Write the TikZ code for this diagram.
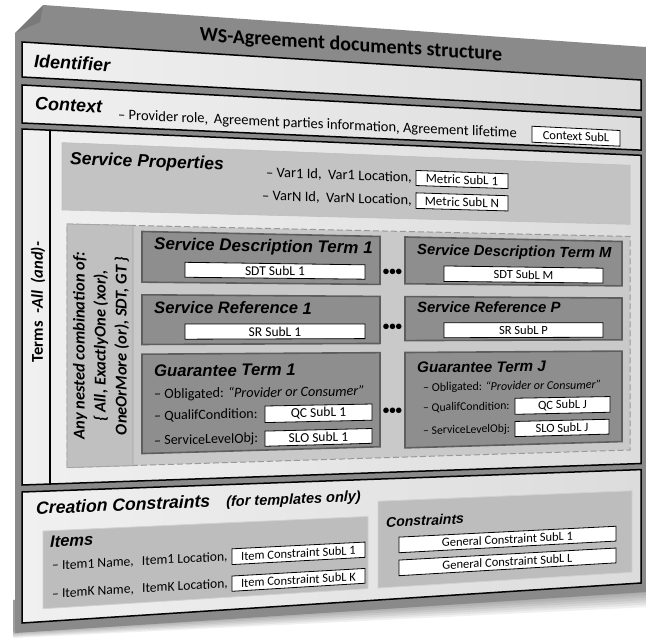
\documentclass[tikz,border=0pt]{standalone}
\usepackage{fontspec}
\setmainfont{Carlito}
\newfontfamily\hdfont{Liberation Sans}
\definecolor{sheetc}{HTML}{8A8A8A}
\definecolor{boxlight}{HTML}{F0F0F0}
\definecolor{boxdark}{HTML}{DCDCDC}
\definecolor{spc}{HTML}{C3C3C3}
\definecolor{dashc}{HTML}{C9C9C9}
\definecolor{anyc}{HTML}{C0C0C0}
\definecolor{termc}{HTML}{8E8E8E}
\definecolor{termb}{HTML}{5E5E5E}
\definecolor{itemc}{HTML}{BDBDBD}
\newcommand\hf[1]{\hdfont\bfseries\itshape\fontsize{#1}{#1}\selectfont}
\newcommand\bodyf[1]{\fontsize{#1}{#1}\selectfont}
% quadrilateral box in mapped coordinates: style, X1, Y1, X2, Y2
\newcommand\qbox[5]{\path[#1] ({#2},{mapy(#2,#3)}) -- ({#4},{mapy(#4,#3)}) -- ({#4},{mapy(#4,#5)}) -- ({#2},{mapy(#2,#5)}) -- cycle;}
% text node: name, options, anchor, X, Y, text
\newcommand\txt[6]{\pgfmathsetmacro\mysl{round(-mapsl(#5)*10000)/10000}\node[tx,#2,anchor=#3,yslant=\mysl] (#1) at ({#4},{mapy(#4,#5)}) {#6};}
% rotated text node (no slant)
\newcommand\vtxt[5]{\node[tx,#2,rotate=90,anchor=center] (#1) at ({#3},{mapy(#3,#4)}) {#5};}
\begin{document}
\begin{tikzpicture}[x=1pt,y=-1pt,
  declare function={mapu(\x)=(\x-22)/619; mapy(\x,\y)=42+38*mapu(\x)+(\y-42)/581*(581-78*mapu(\x)); mapsl(\y)=(38-78/581*(\y-42))/619;},
  tx/.style={inner sep=0pt, text=black},
  lbox/.style={draw=black, line width=1.5pt, left color=boxlight, right color=boxdark},
  spbox/.style={fill=spc, draw=black!25, line width=0.6pt},
  dashbox/.style={fill=dashc, draw=black!40, line width=1pt, dash pattern=on 6pt off 3pt},
  anybox/.style={fill=anyc, draw=black!35, line width=0.8pt},
  tbox/.style={fill=termc, draw=termb, line width=1.6pt},
  wbox/.style={fill=white, draw=black, line width=0.8pt},
  ibox/.style={fill=itemc, draw=black!18, line width=0.8pt}]
\useasboundingbox (0,0) rectangle (646,641);
% shadow
\foreach \d in {1,...,8}{\fill[black,opacity=0.06] (13,{630+\d}) -- (646,{588+2.4*\d}) -- (646,560) -- (13,600) -- cycle;}
% sheet
\fill[sheetc] (15,33) -- (43,5) -- (646,47) -- (646,592) -- (15,633) -- cycle;
\fill[black,opacity=0.12] (15,33) -- (43,5) -- (40,22) -- cycle;
\txt{title}{font=\bfseries\bodyf{20}}{center}{351}{24}{WS-Agreement documents structure}
% Identifier
\qbox{lbox}{22}{42}{641}{77}
\txt{ident}{font=\hf{18}}{west}{34}{60}{Identifier}
% Context
\qbox{lbox}{22}{85}{641}{123}
\txt{ctx}{font=\hf{18}}{west}{35}{103}{Context}
\txt{ctxline}{font=\bodyf{14.5}}{west}{118}{111}{– Provider role,\, Agreement parties information, Agreement lifetime}
\qbox{wbox}{532}{101.5}{620}{119.5}
\txt{ctxsub}{font=\bodyf{12.5}}{center}{576}{110.5}{Context SubL}
% Terms
\qbox{lbox}{22}{129}{641}{485}
\draw[line width=1.4pt] (50,{mapy(50,129)}) -- (50,{mapy(50,485)});
\vtxt{termslbl}{font=\bodyf{16.5}}{38}{302}{\bfseries Terms~ \itshape -All~ (and)-}
% Service properties
\qbox{spbox}{62}{141}{630}{209}
\txt{sphead}{font=\hf{17.5}}{west}{70}{158}{Service Properties}
\txt{var1}{font=\bodyf{14.5}}{east}{412}{164.4}{– Var1 Id,~ Var1 Location,}
\txt{varn}{font=\bodyf{14.5}}{east}{412}{189}{– VarN Id,~ VarN Location,}
\qbox{wbox}{416}{156}{508}{172.5}
\txt{met1}{font=\bodyf{13}}{center}{462}{164.3}{Metric SubL 1}
\qbox{wbox}{416}{180.5}{508}{197.5}
\txt{metn}{font=\bodyf{13}}{center}{462}{189}{Metric SubL N}
% nested region
\qbox{dashbox}{67}{223}{630}{469}
\qbox{anybox}{67}{223}{133}{469}
\vtxt{anylbl}{font=\bfseries\itshape\fontsize{16.5}{21}\selectfont, align=center}{101}{346}{Any nested combination of:\\\{ All, ExactlyOne (xor),\\OneOrMore (or), SDT, GT \}}
% SDT
\qbox{tbox}{142}{229}{380}{281}
\txt{sdt1h}{font=\hf{17}}{west}{154}{243}{Service Description Term 1}
\qbox{wbox}{185}{260}{365}{275.5}
\txt{sdt1s}{font=\bodyf{13.5}}{center}{275}{267.7}{SDT SubL 1}
\qbox{tbox}{405}{229}{622}{280}
\txt{sdtmh}{font=\hf{14.8}}{west}{417}{244}{Service Description Term M}
\qbox{wbox}{444}{260}{603}{277}
\txt{sdtms}{font=\bodyf{12.5}}{center}{523.5}{268.5}{SDT SubL M}
\txt{dots1}{font=\bfseries\bodyf{13}}{center}{392.5}{268}{•••}
% SR
\qbox{tbox}{142}{294}{380}{345}
\txt{sr1h}{font=\hf{16.6}}{west}{154}{307}{Service Reference 1}
\qbox{wbox}{185}{324}{365}{339.7}
\txt{sr1s}{font=\bodyf{13.5}}{center}{275}{331.8}{SR SubL 1}
\qbox{tbox}{405}{294}{622}{342}
\txt{srph}{font=\hf{14.9}}{west}{417}{305}{Service Reference P}
\qbox{wbox}{444}{322.5}{603}{339}
\txt{srps}{font=\bodyf{12.5}}{center}{523.5}{330.7}{SR SubL P}
\txt{dots2}{font=\bfseries\bodyf{13}}{center}{392.5}{327}{•••}
% GT
\qbox{tbox}{142}{355}{380}{457}
\txt{gt1h}{font=\hf{16.7}}{west}{154}{372.5}{Guarantee Term 1}
\txt{gt1ob}{font=\bodyf{14.2}}{west}{154}{397}{– Obligated: \textit{“Provider or Consumer”}}
\txt{gt1qc}{font=\bodyf{14}}{west}{154}{419}{– QualifCondition:}
\qbox{wbox}{265}{410.5}{372}{428}
\txt{gt1qcs}{font=\bodyf{13.5}}{center}{318.5}{419.2}{QC SubL 1}
\txt{gt1slo}{font=\bodyf{14}}{west}{154}{445}{– ServiceLevelObj:}
\qbox{wbox}{265}{437}{372}{453}
\txt{gt1slos}{font=\bodyf{13.5}}{center}{318.5}{445}{SLO SubL 1}
\qbox{tbox}{405}{355}{622}{459}
\txt{gtjh}{font=\hf{15.2}}{west}{417}{371.7}{Guarantee Term J}
\txt{gtjob}{font=\bodyf{12}}{west}{423}{394}{– Obligated: \textit{“Provider or Consumer”}}
\txt{gtjqc}{font=\bodyf{11.7}}{west}{423}{416}{– QualifCondition:}
\qbox{wbox}{515}{407}{610}{425}
\txt{gtjqcs}{font=\bodyf{12.5}}{center}{562.5}{416}{QC SubL J}
\txt{gtjslo}{font=\bodyf{11.7}}{west}{423}{441.5}{– ServiceLevelObj:}
\qbox{wbox}{515}{433}{609}{450}
\txt{gtjslos}{font=\bodyf{12.5}}{center}{562}{441.5}{SLO SubL J}
\txt{dots3}{font=\bfseries\bodyf{13}}{center}{392.5}{419}{•••}
% Creation constraints
\qbox{lbox}{22}{492}{641}{623}
\txt{cchead}{font=\hf{17.6}}{west}{36}{510}{Creation Constraints\hspace{16pt}{\hf{14.5}(for templates only)}}
\qbox{ibox}{43}{532}{368}{610}
\txt{itemsh}{font=\hf{16.5}}{west}{50}{543}{Items}
\txt{item1}{font=\bodyf{13.6}}{west}{52}{567.7}{– Item1 Name,\hspace{5pt} Item1 Location,}
\qbox{wbox}{232}{559.5}{365}{576}
\txt{item1s}{font=\bodyf{12.5}}{center}{298.5}{567.7}{Item Constraint SubL 1}
\txt{itemk}{font=\bodyf{13.6}}{west}{52}{596}{– ItemK Name,\hspace{5pt} ItemK Location,}
\qbox{wbox}{232}{588}{365}{604}
\txt{itemks}{font=\bodyf{12.5}}{center}{298.5}{596}{Item Constraint SubL K}
\qbox{ibox}{378}{516}{632}{610}
\txt{consh}{font=\hf{14}}{west}{386}{539}{Constraints}
\qbox{wbox}{399}{556}{616}{573}
\txt{gc1}{font=\bodyf{12.5}}{center}{507.5}{564.5}{General Constraint SubL 1}
\qbox{wbox}{399}{581}{616}{598}
\txt{gcl}{font=\bodyf{12.5}}{center}{507.5}{589.5}{General Constraint SubL L}
\end{tikzpicture}
\end{document}
